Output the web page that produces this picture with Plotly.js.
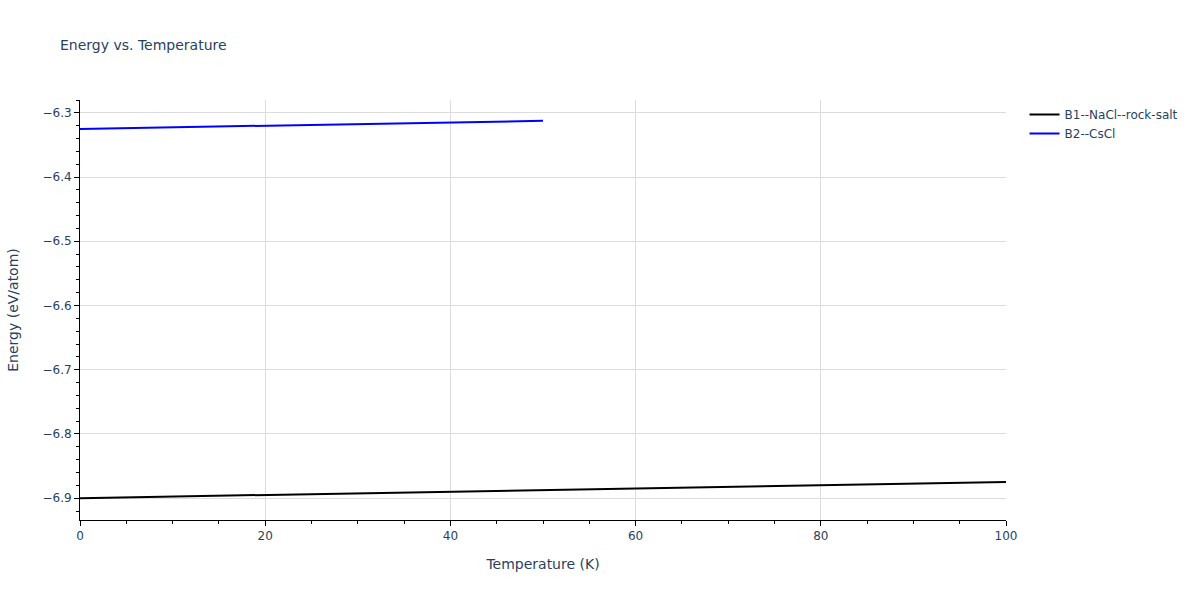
<!DOCTYPE html>
<html>
<head>
<meta charset="utf-8">
<script src="https://cdn.plot.ly/plotly-3.0.1.min.js"></script>
<style>body{margin:0;}#chart{width:1200px;height:600px;}</style>
</head>
<body>
<div id="chart"></div>
<script>
const tempB1 = [0, 20, 40, 60, 80, 100];
const energyB1 = [-6.900, -6.895, -6.890, -6.885, -6.880, -6.875];
const tempB2 = [0, 10, 20, 30, 40, 50];
const energyB2 = [-6.325, -6.3225, -6.320, -6.3175, -6.315, -6.3125];

const traces = [
	{
		x: tempB1, y: energyB1, mode: 'lines', name: 'B1--NaCl--rock-salt',
		line: {color: 'black', width: 2}
	},
	{
		x: tempB2, y: energyB2, mode: 'lines', name: 'B2--CsCl',
		line: {color: 'blue', width: 2}
	}
];

const axisStyle = {
	showline: true, linecolor: 'black', linewidth: 1,
	ticks: 'outside', ticklen: 5, tickcolor: 'black',
	gridcolor: '#dcdcdc', zeroline: false,
	minor: {ticks: 'outside', ticklen: 3, tickcolor: 'black', showgrid: false}
};

const layout = {
	width: 1200, height: 600,
	margin: {l: 80, r: 194, t: 100, b: 80},
	paper_bgcolor: 'white', plot_bgcolor: 'white',
	font: {family: '"DejaVu Sans", verdana, sans-serif', size: 12, color: '#2a3f5f'},
	title: {text: 'Energy vs. Temperature', x: 0.05, y: 0.925, yanchor: 'middle', xanchor: 'left', font: {size: 14, color: '#2a3f5f'}},
	xaxis: Object.assign({}, axisStyle, {
		title: {text: 'Temperature (K)', standoff: 16, font: {size: 14, color: '#2a3f5f'}},
		range: [0, 100], dtick: 20,
		minor: Object.assign({}, axisStyle.minor, {dtick: 5})
	}),
	yaxis: Object.assign({}, axisStyle, {
		title: {text: 'Energy (eV/atom)', standoff: 20, font: {size: 14, color: '#2a3f5f'}},
		range: [-6.934, -6.28], dtick: 0.1,
		minor: Object.assign({}, axisStyle.minor, {dtick: 0.02})
	}),
	legend: {x: 1.02, y: 1, xanchor: 'left', yanchor: 'top'},
	showlegend: true
};

Plotly.newPlot('chart', traces, layout, {displayModeBar: false});
</script>
</body>
</html>
